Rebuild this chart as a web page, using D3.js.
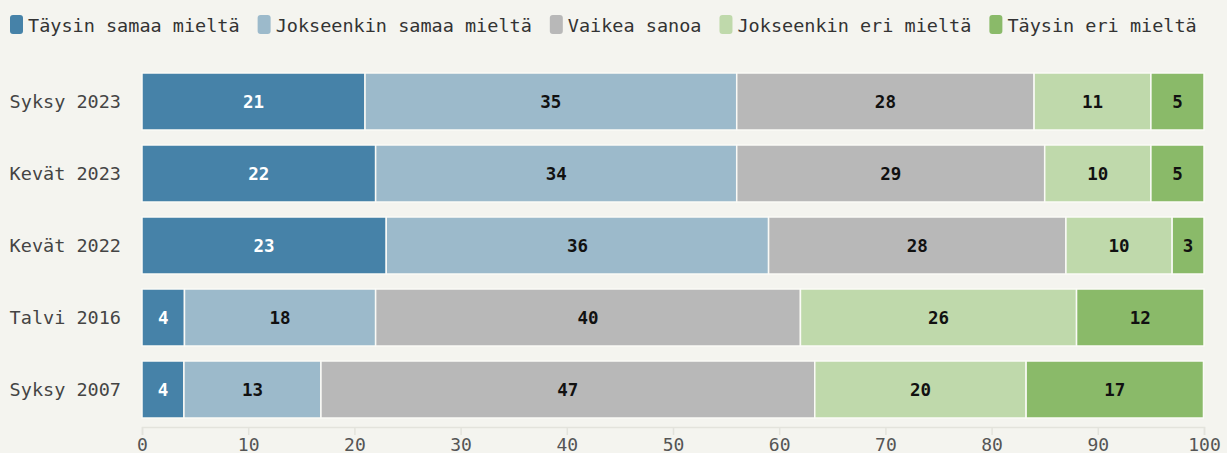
<!DOCTYPE html>
<html><head><meta charset="utf-8">
<script src="https://cdn.jsdelivr.net/npm/d3@7"></script>
<style>
html,body{margin:0;padding:0;background:#f4f4ef;}
svg{display:block;}
text{font-family:"DejaVu Sans Mono","Liberation Mono",monospace;}
</style></head>
<body>
<script>
const categories = ["Syksy 2023","Kevät 2023","Kevät 2022","Talvi 2016","Syksy 2007"];
const seriesNames = ["Täysin samaa mieltä","Jokseenkin samaa mieltä","Vaikea sanoa","Jokseenkin eri mieltä","Täysin eri mieltä"];
const taysinSamaa = [21, 22, 23, 4, 3.95];
const jokseenkinSamaa = [35, 34, 36, 18, 12.9];
const vaikeaSanoa = [28, 29, 28, 40, 46.5];
const jokseenkinEri = [11, 10, 10, 26, 19.9];
const taysinEri = [5, 5, 3, 12, 16.7];
const xTicks = [0,10,20,30,40,50,60,70,80,90,100];
const colors = ["#4682a8","#9cbacb","#b8b8b8","#bfd9ab","#8aba69"];
const labelColors = ["#ffffff","#111111","#111111","#111111","#111111"];

const W = 1227, H = 453;
const svg = d3.select("body").append("svg").attr("width", W).attr("height", H);
svg.append("rect").attr("width", W).attr("height", H).attr("fill", "#f4f4ef");

const seriesVals = [taysinSamaa, jokseenkinSamaa, vaikeaSanoa, jokseenkinEri, taysinEri];
const keys = seriesNames;
const table = categories.map((c, i) => {
  const o = {cat: c};
  keys.forEach((k, j) => o[k] = seriesVals[j][i]);
  return o;
});
const stacked = d3.stack().keys(keys)(table);

const x = d3.scaleLinear().domain([0, 100]).range([142, 1204]);
const y = d3.scaleBand().domain(categories).range([65.5, 425.5]).paddingInner(15/72).paddingOuter(7.5/72);

// axis
const axisY = 427;
const ax = svg.append("g").attr("transform", `translate(0,${axisY})`)
  .call(d3.axisBottom(x).tickValues(xTicks).tickSize(8).tickPadding(3).tickFormat(d3.format("d")));
ax.select(".domain").attr("stroke", "#e3e3dc").attr("stroke-width", 1.5);
ax.selectAll(".tick line").attr("stroke", "#e3e3dc").attr("stroke-width", 1.5);
ax.selectAll(".tick text").attr("fill", "#555").style("font-size", "18px")
  .style("font-family", "'DejaVu Sans Mono', monospace").attr("dy", "0.72em");

// bars
const g = svg.append("g");
stacked.forEach((s, j) => {
  const gg = g.append("g");
  gg.selectAll("rect").data(s).join("rect")
    .attr("x", d => x(d[0]))
    .attr("y", d => y(d.data.cat))
    .attr("width", d => x(d[1]) - x(d[0]))
    .attr("height", y.bandwidth())
    .attr("fill", colors[j])
    .attr("stroke", "#fafaf6").attr("stroke-width", 1.5);
  gg.selectAll("text").data(s).join("text")
    .attr("x", d => (x(d[0]) + x(d[1])) / 2)
    .attr("y", d => y(d.data.cat) + y.bandwidth() / 2)
    .attr("text-anchor", "middle").attr("dominant-baseline", "central")
    .attr("fill", labelColors[j])
    .style("font-size", "17.5px").style("font-weight", "bold")
    .text(d => Math.round(d[1] - d[0]));
});

// y labels
svg.append("g").selectAll("text").data(categories).join("text")
  .attr("x", 121).attr("y", d => y(d) + y.bandwidth() / 2)
  .attr("text-anchor", "end").attr("dominant-baseline", "central")
  .attr("fill", "#444").style("font-size", "18.5px").text(d => d);

// legend
const leg = svg.append("g");
let lx = 10;
seriesNames.forEach((n, j) => {
  leg.append("rect").attr("x", lx).attr("y", 15).attr("width", 13).attr("height", 19)
    .attr("rx", 3).attr("fill", colors[j]);
  const t = leg.append("text").attr("x", lx + 18).attr("y", 25).attr("dominant-baseline", "central")
    .attr("fill", "#333").style("font-size", "18.5px").text(n);
  lx = lx + 18 + t.node().getComputedTextLength() + 18;
});
</script>
</body></html>
